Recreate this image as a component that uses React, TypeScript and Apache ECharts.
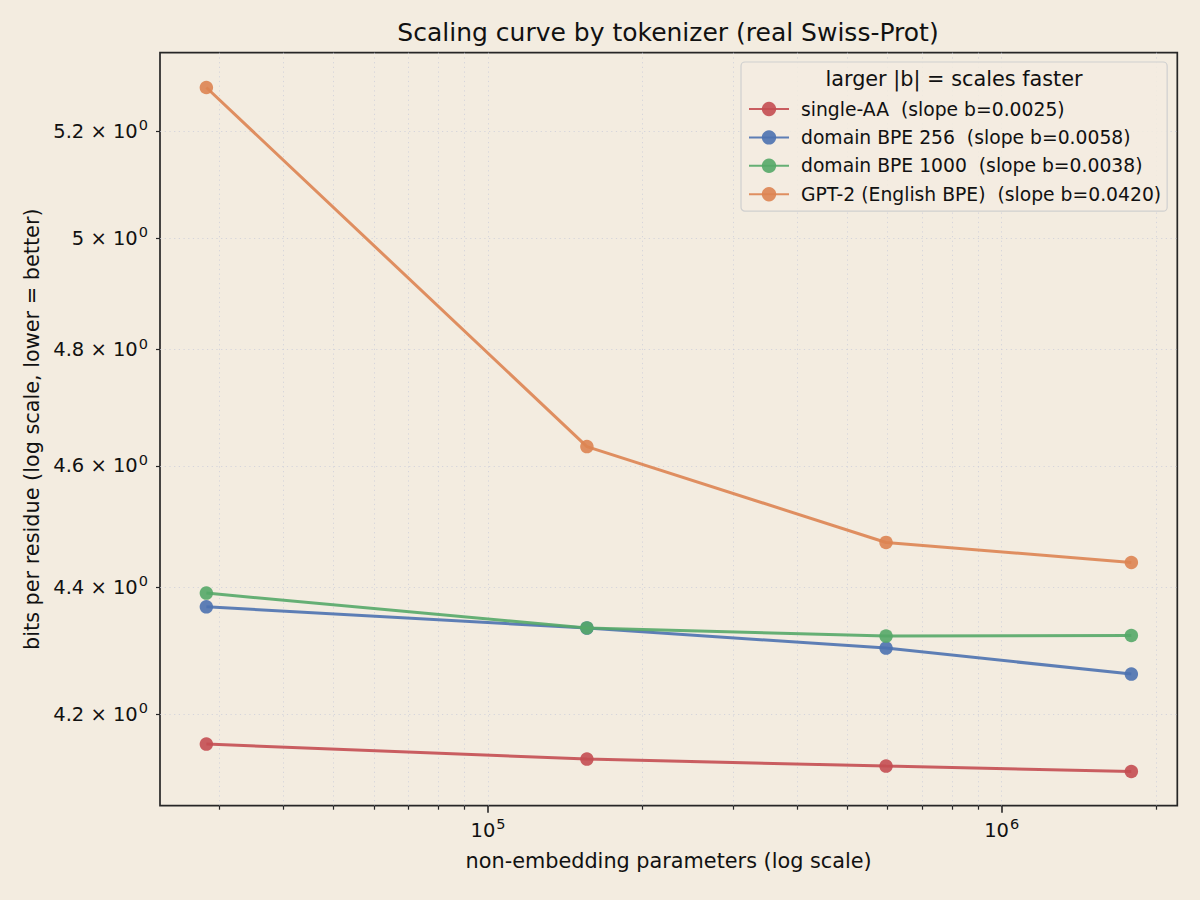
import React, { useEffect, useRef } from 'react';
import * as echarts from 'echarts';

// ---- data ----
const params = [28300, 155800, 595500, 1788000];
const seriesNames = [
  'single-AA  (slope b=0.0025)',
  'domain BPE 256  (slope b=0.0058)',
  'domain BPE 1000  (slope b=0.0038)',
  'GPT-2 (English BPE)  (slope b=0.0420)',
];
const singleAA = [4.1545, 4.1317, 4.1211, 4.113];
const bpe256 = [4.3686, 4.3347, 4.3031, 4.2623];
const bpe1000 = [4.3906, 4.335, 4.322, 4.323];
const gpt2 = [5.2835, 4.6326, 4.4728, 4.4401];
const colors = ['#c44e52', '#4c72b0', '#55a868', '#dd8452'];

const xMajorTicks = [1e5, 1e6];
const xMajorLabels = ['{a|10}{b|5}', '{a|10}{b|6}'];
const xMinorTicks = [3e4, 4e4, 5e4, 6e4, 7e4, 8e4, 9e4, 2e5, 3e5, 4e5, 5e5, 6e5, 7e5, 8e5, 9e5, 2e6];
const yTicks = [4.2, 4.4, 4.6, 4.8, 5.0, 5.2];
const yTickLabels = [
  '{a|4.2 × 10}{b|0}',
  '{a|4.4 × 10}{b|0}',
  '{a|4.6 × 10}{b|0}',
  '{a|4.8 × 10}{b|0}',
  '{a|5 × 10}{b|0}',
  '{a|5.2 × 10}{b|0}',
];

const X_MIN = 22990;
const X_MAX = 2197000;
const Y_MIN = 4.0618;
const Y_MAX = 5.3513;

const BG = '#f3ece0';
const INK = '#111111';
const FRAME = '#262626';
const GRIDLINE = 'rgba(200,203,216,0.7)';
const FONT = '"DejaVu Sans", sans-serif';

const GRID = { left: 160, top: 52.7, width: 1017.3, height: 753 };

const richLabel = {
  a: { fontFamily: FONT, fontSize: 19.5, color: INK },
  b: { fontFamily: FONT, fontSize: 14.5, color: INK, padding: [0, 0, 12, 1] },
};

function nearestLabel(v: number, ticks: number[], labels: string[]) {
  let best = 0;
  let bd = Infinity;
  ticks.forEach((t, i) => {
    const d = Math.abs(Math.log(v) - Math.log(t));
    if (d < bd) { bd = d; best = i; }
  });
  return labels[best];
}

export default function App() {
  const ref = useRef<HTMLDivElement>(null);
  useEffect(() => {
    if (!ref.current) return;
    const chart = echarts.init(ref.current, null, { renderer: 'svg' });
    const allSeries = [singleAA, bpe256, bpe1000, gpt2];
    const gridLineStyle = { color: GRIDLINE, type: [1.2, 3.5], width: 1 };
    const option: any = {
      animation: false,
      backgroundColor: BG,
      textStyle: { fontFamily: FONT, color: INK },
      title: [
        {
          text: 'Scaling curve by tokenizer (real Swiss-Prot)',
          left: 668,
          top: 20,
          padding: 0,
          textAlign: 'center',
          textStyle: { fontFamily: FONT, fontSize: 25, fontWeight: 'normal', color: INK },
        },
        {
          text: 'larger |b| = scales faster',
          left: 954,
          top: 68,
          padding: 0,
          textAlign: 'center',
          z: 20,
          textStyle: { fontFamily: FONT, fontSize: 20.8, fontWeight: 'normal', color: INK },
        },
      ],
      legend: {
        left: 741,
        top: 62,
        orient: 'vertical',
        padding: [37, 6, 7, 7],
        itemWidth: 40,
        itemHeight: 18,
        itemGap: 8.4,
        backgroundColor: 'rgba(243,236,224,0.85)',
        borderColor: '#cfcfcf',
        borderWidth: 1.2,
        borderRadius: 4,
        z: 10,
        data: seriesNames,
        textStyle: { fontFamily: FONT, fontSize: 18.75, color: INK, lineHeight: 20, padding: [0, 0, 0, 7] },
      },
      grid: [
        { ...GRID, show: true, borderColor: FRAME, borderWidth: 1.7, backgroundColor: 'transparent', containLabel: false },
        { ...GRID, show: false, containLabel: false },
      ],
      xAxis: [
        {
          type: 'log',
          logBase: 10,
          gridIndex: 0,
          min: X_MIN,
          max: X_MAX,
          axisLine: { show: false },
          axisTick: { show: true, customValues: xMajorTicks, length: 7, lineStyle: { color: FRAME, width: 1.6 } },
          axisLabel: {
            show: true,
            customValues: xMajorTicks,
            margin: 11,
            color: INK,
            rich: richLabel,
            formatter: (v: number) => nearestLabel(v, xMajorTicks, xMajorLabels),
          },
          splitLine: { show: true, lineStyle: gridLineStyle },
          minorTick: { show: false },
          name: 'non-embedding parameters (log scale)',
          nameLocation: 'middle',
          nameGap: 45,
          nameTextStyle: { fontFamily: FONT, fontSize: 20.8, color: INK },
        },
        {
          type: 'log',
          logBase: 10,
          gridIndex: 1,
          min: X_MIN,
          max: X_MAX,
          axisLine: { show: false },
          axisTick: { show: true, customValues: xMinorTicks, length: 4, lineStyle: { color: FRAME, width: 1.2 } },
          axisLabel: { show: false },
          splitLine: { show: true, lineStyle: gridLineStyle },
        },
      ],
      yAxis: [
        {
          type: 'log',
          logBase: 10,
          gridIndex: 0,
          min: Y_MIN,
          max: Y_MAX,
          axisLine: { show: false },
          axisTick: { show: true, customValues: yTicks, length: 4, lineStyle: { color: FRAME, width: 1.2 } },
          axisLabel: {
            show: true,
            customValues: yTicks,
            margin: 12,
            color: INK,
            rich: richLabel,
            formatter: (v: number) => nearestLabel(v, yTicks, yTickLabels),
          },
          splitLine: { show: true, lineStyle: gridLineStyle },
          name: 'bits per residue (log scale, lower = better)',
          nameLocation: 'middle',
          nameGap: 117,
          nameRotate: 90,
          nameTextStyle: { fontFamily: FONT, fontSize: 20.8, color: INK },
        },
        {
          type: 'log',
          logBase: 10,
          gridIndex: 1,
          min: Y_MIN,
          max: Y_MAX,
          show: false,
        },
      ],
      series: allSeries.map((vals, i) => ({
        name: seriesNames[i],
        type: 'line',
        xAxisIndex: 0,
        yAxisIndex: 0,
        data: params.map((p, j) => [p, vals[j]]),
        symbol: 'circle',
        symbolSize: 13.5,
        showSymbol: true,
        z: 3 + i,
        lineStyle: { color: colors[i], width: 3, opacity: 0.9 },
        itemStyle: { color: colors[i], opacity: 0.9 },
        emphasis: { disabled: true },
      })),
    };
    chart.setOption(option);
    return () => chart.dispose();
  }, []);
  return (
    <div
      ref={ref}
      style={{ position: 'fixed', left: 0, top: 0, width: 1200, height: 900 }}
    />
  );
}
